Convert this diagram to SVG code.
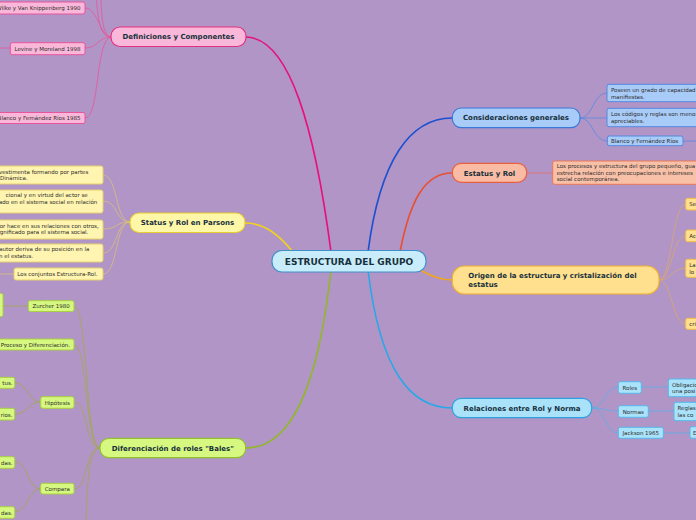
<svg xmlns="http://www.w3.org/2000/svg" width="696" height="520" viewBox="0 0 696 520">
<style>
.main{font-family:"DejaVu Sans",Verdana,sans-serif;font-weight:bold;fill:#17303c;}
.t{font-family:"DejaVu Sans",Verdana,sans-serif;font-size:5.5px;fill:#2c2c2c;}
.c{fill:none;stroke-linecap:round;}
.pk{fill:#f9b8d9;stroke:#e4307f;stroke-width:1.2;}
.pks{fill:#f9b8d9;stroke:#e8559c;stroke-width:1;}
.yl{fill:#fff7a8;stroke:#e8cc30;stroke-width:1.2;}
.yls{fill:#fff5b0;stroke:#e6d06a;stroke-width:1;}
.lm{fill:#d6f880;stroke:#92c030;stroke-width:1.2;}
.lms{fill:#d6f880;stroke:#a8d040;stroke-width:1;}
.bl{fill:#a9cbf7;stroke:#3a78d8;stroke-width:1.2;}
.bls{fill:#a9cbf7;stroke:#5588e0;stroke-width:1;}
.sa{fill:#f9bba3;stroke:#e86040;stroke-width:1.2;}
.sas{fill:#f9c0a8;stroke:#e87858;stroke-width:1;}
.or{fill:#fee08f;stroke:#f0b030;stroke-width:1.2;}
.ors{fill:#fee08f;stroke:#f0bc48;stroke-width:1;}
.cy{fill:#aae2fa;stroke:#30a0e0;stroke-width:1.2;}
.cys{fill:#aae2fa;stroke:#55b8ea;stroke-width:1;}
</style>
<rect x="0" y="0" width="696" height="520" fill="#b095c6"/>
<g id="connectors">
  <path class="c" d="M331,252 C315,130 290,38 246,37" stroke="#e8107a" stroke-width="1.6"/>
  <path class="c" d="M293,252 C280,236 265,223 245,223" stroke="#f0d020" stroke-width="1.6"/>
  <path class="c" d="M331,270 C318,390 290,448 246,448" stroke="#90b828" stroke-width="1.6"/>
  <path class="c" d="M368,252 C380,160 410,118 452,118" stroke="#1a50d0" stroke-width="1.6"/>
  <path class="c" d="M400,252 C410,200 425,173 452,173" stroke="#e85030" stroke-width="1.6"/>
  <path class="c" d="M420,270 C432,276 440,280 452,280" stroke="#f0a818" stroke-width="1.6"/>
  <path class="c" d="M368,270 C380,370 410,408 452,408" stroke="#28a8e8" stroke-width="1.6"/>
  <g stroke="#e8559c" stroke-width="0.8" fill="none">
    <path d="M111,37 C100,37 98,8 85,8"/>
    <path d="M111,37 C100,37 98,20 96,-5"/>
    <path d="M111,37 C103,37 101,15 101,-5"/>
    <path d="M111,37 C98,37 98,48 85,48"/>
    <path d="M111,37 C95,40 100,118 85,118"/>
    <path d="M10,48 L0,48"/>
  </g>
  <g stroke="#d8c078" stroke-width="0.8" fill="none">
    <path d="M130,222 C115,222 118,175 103,175"/>
    <path d="M130,222 C115,222 118,201 103,201"/>
    <path d="M130,222 C115,222 118,229 103,229"/>
    <path d="M130,222 C115,222 118,253 103,253"/>
    <path d="M130,222 C115,222 118,274 103,274"/>
    <path d="M14,274 L0,274"/>
  </g>
  <g stroke="#a3a84e" stroke-width="0.8" fill="none">
    <path d="M100,448 C85,448 88,306 74,306"/>
    <path d="M100,448 C85,448 88,345 74,345"/>
    <path d="M100,448 C85,448 88,402 74,402"/>
    <path d="M100,448 C85,448 88,489 74,489"/>
    <path d="M100,448 C88,448 87,490 86,525"/>
    <path d="M28,306 L3,306"/>
    <path d="M40.7,402 C28,402 28,383 14.7,383"/>
    <path d="M40.7,402 C28,402 28,414 14.7,414"/>
    <path d="M40.7,489 C28,489 28,462 14.7,462"/>
    <path d="M40.7,489 C28,489 28,512 14.7,512"/>
  </g>
  <g stroke="#5a88e0" stroke-width="0.8" fill="none">
    <path d="M580,118 C593,118 593,93 607,93"/>
    <path d="M580,118 L607,118"/>
    <path d="M580,118 C593,118 593,141 607,141"/>
    <path d="M683,141 L696,141"/>
  </g>
  <path d="M527,173 L553,173" stroke="#e87060" stroke-width="0.8" fill="none"/>
  <g stroke="#d8a870" stroke-width="0.8" fill="none">
    <path d="M659,280 C672,280 672,204 686,204"/>
    <path d="M659,280 C672,280 672,236 686,236"/>
    <path d="M659,280 C672,280 672,268 686,268"/>
    <path d="M659,280 C672,280 672,324 686,324"/>
  </g>
  <g stroke="#5ab0e8" stroke-width="0.8" fill="none">
    <path d="M592,408 C605,408 605,387 618,387"/>
    <path d="M592,408 C605,408 605,411 618,411"/>
    <path d="M592,408 C605,408 605,433 618,433"/>
    <path d="M641,387 L668,387"/>
    <path d="M648,411 L674,411"/>
    <path d="M663,433 L690,433"/>
  </g>
</g>
<g id="root">
  <rect x="272" y="250.5" width="154" height="21.5" rx="10" fill="#c8ecfa" stroke="#3f8fcb" stroke-width="1.2"/>
  <text class="main" x="349" y="264.5" font-size="9" text-anchor="middle">ESTRUCTURA DEL GRUPO</text>
</g>
<g id="definiciones">
  <rect class="pk" x="111" y="27" width="135" height="19.5" rx="9"/>
  <text class="main" x="178.5" y="39.3" font-size="7" text-anchor="middle">Definiciones y Componentes</text>
</g>
<g id="wilke"><rect class="pks" x="-20" y="2" width="105" height="12" rx="2"/><text class="t" x="80.5" y="10" text-anchor="end">Wilke y Van Knippenberg 1990</text></g>
<g id="levine"><rect class="pks" x="10.3" y="42.7" width="74.7" height="12" rx="2"/><text class="t" x="80.5" y="50.8" text-anchor="end">Levine y Moreland 1998</text></g>
<g id="blanco1985"><rect class="pks" x="-20" y="112.5" width="105" height="11" rx="2"/><text class="t" x="80.5" y="120.2" text-anchor="end">Blanco y Fernández Ríos 1985</text></g>

<g id="parsons">
  <rect class="yl" x="130" y="213" width="115" height="19.5" rx="9"/>
  <text class="main" x="187.5" y="225.3" font-size="7" text-anchor="middle">Status y Rol en Parsons</text>
</g>
<g id="p1"><rect class="yls" x="-40" y="166" width="143" height="18" rx="2"/><text class="t" x="88.3" y="173.5" text-anchor="end">vestimenta formando por partes</text><text class="t" x="27.7" y="180.3" text-anchor="end">Dinámica.</text></g>
<g id="p2"><rect class="yls" x="-40" y="190" width="143" height="23" rx="2"/><text class="t" x="87.7" y="196.8" text-anchor="end">cional y en virtud del actor se</text><text class="t" x="97.3" y="203.8" text-anchor="end">ado en el sistema social en relación</text></g>
<g id="p3"><rect class="yls" x="-40" y="220" width="143" height="19" rx="2"/><text class="t" x="98.7" y="227.7" text-anchor="end">or hace en sus relaciones con otros,</text><text class="t" x="88.3" y="234.4" text-anchor="end">gnificado para el sistema social.</text></g>
<g id="p4"><rect class="yls" x="-40" y="244" width="143" height="18" rx="2"/><text class="t" x="89.3" y="251.2" text-anchor="end">autor deriva de su posición en la</text><text class="t" x="33" y="258.2" text-anchor="end">n el estatus.</text></g>
<g id="p5"><rect class="yls" x="14" y="268" width="89" height="12" rx="2"/><text class="t" x="17.3" y="276.3">Los conjuntos Estructura-Rol.</text></g>

<g id="bales">
  <rect class="lm" x="100" y="438.3" width="145.7" height="19.4" rx="9"/>
  <text class="main" x="172.8" y="450.6" font-size="7" text-anchor="middle">Diferenciación de roles "Bales"</text>
</g>
<g id="zurcher-left"><rect class="lms" x="-20" y="293.3" width="23" height="23.4" rx="2"/></g>
<g id="zurcher"><rect class="lms" x="28.3" y="300.7" width="45.7" height="10.8" rx="2"/><text class="t" x="51.2" y="308.3" text-anchor="middle">Zurcher 1980</text></g>
<g id="proceso"><rect class="lms" x="-20" y="339" width="94" height="11" rx="2"/><text class="t" x="70" y="346.8" text-anchor="end">Proceso y Diferenciación.</text></g>
<g id="hipotesis"><rect class="lms" x="40.7" y="396.7" width="33.3" height="11.6" rx="2"/><text class="t" x="57.3" y="404.6" text-anchor="middle">Hipótesis</text></g>
<g id="h1"><rect class="lms" x="-20" y="377.3" width="34.7" height="11" rx="2"/><text class="t" x="12.5" y="385.2" text-anchor="end">tus.</text></g>
<g id="h2"><rect class="lms" x="-20" y="408.3" width="34.7" height="11.7" rx="2"/><text class="t" x="12.5" y="416.5" text-anchor="end">rios.</text></g>
<g id="compara"><rect class="lms" x="40.7" y="483.3" width="33.3" height="10.7" rx="2"/><text class="t" x="57.3" y="490.9" text-anchor="middle">Compara</text></g>
<g id="c1"><rect class="lms" x="-20" y="456.7" width="34.7" height="11.6" rx="2"/><text class="t" x="12.5" y="464.8" text-anchor="end">das.</text></g>
<g id="c2"><rect class="lms" x="-20" y="506.7" width="34.7" height="11.6" rx="2"/><text class="t" x="12.5" y="514.8" text-anchor="end">das.</text></g>

<g id="consideraciones">
  <rect class="bl" x="452.3" y="108" width="127.7" height="19.7" rx="9"/>
  <text class="main" x="516" y="120.4" font-size="7" text-anchor="middle">Consideraciones generales</text>
</g>
<g id="k1"><rect class="bls" x="607" y="84.3" width="110" height="17.4" rx="2"/><text class="t" x="611" y="91.9">Poseen un grado de capacidad</text><text class="t" x="611" y="98.8">manifiestas.</text></g>
<g id="k2"><rect class="bls" x="607" y="108.3" width="110" height="18.4" rx="2"/><text class="t" x="611" y="115.8">Los códigos y reglas son menos</text><text class="t" x="611" y="122.8">apreciables.</text></g>
<g id="k3"><rect class="bls" x="607.3" y="136" width="75.7" height="9.7" rx="2"/><text class="t" x="611" y="142.9">Blanco y Fernández Ríos</text></g>

<g id="estatus">
  <rect class="sa" x="452.3" y="163.3" width="74.4" height="19" rx="9"/>
  <text class="main" x="489.5" y="175.5" font-size="7" text-anchor="middle">Estatus y Rol</text>
</g>
<g id="e1"><rect class="sas" x="552.7" y="161" width="170" height="23.3" rx="2"/><text class="t" x="556.7" y="167.8">Los procesos y estructura del grupo pequeño, gua</text><text class="t" x="556.7" y="174.6">estrecha relación con preocupaciones e intereses</text><text class="t" x="556.7" y="181.4">social contemporánea.</text></g>

<g id="origen">
  <rect class="or" x="452.3" y="266" width="206.7" height="28" rx="12"/>
  <text class="main" x="468.3" y="278" font-size="7">Origen de la estructura y cristalización del</text>
  <text class="main" x="468.3" y="287" font-size="7">estatus</text>
</g>
<g id="o1"><rect class="ors" x="685.7" y="198.3" width="30" height="11.7" rx="2"/><text class="t" x="689.3" y="206.2">Se</text></g>
<g id="o2"><rect class="ors" x="685.7" y="230" width="30" height="11.7" rx="2"/><text class="t" x="689.3" y="237.9">Ac</text></g>
<g id="o3"><rect class="ors" x="685.7" y="259.3" width="30" height="18" rx="2"/><text class="t" x="689.3" y="266.8">La</text><text class="t" x="689.3" y="273.6">lo</text></g>
<g id="o4"><rect class="ors" x="685.7" y="318.3" width="30" height="11" rx="2"/><text class="t" x="689.3" y="326">cri</text></g>

<g id="relaciones">
  <rect class="cy" x="452.3" y="398.3" width="139.4" height="19.4" rx="9"/>
  <text class="main" x="522" y="410.6" font-size="7" text-anchor="middle">Relaciones entre Rol y Norma</text>
</g>
<g id="roles"><rect class="cys" x="618.3" y="381.7" width="23" height="11.6" rx="2"/><text class="t" x="629.8" y="389.6" text-anchor="middle">Roles</text></g>
<g id="normas"><rect class="cys" x="618.3" y="405.7" width="30" height="11.6" rx="2"/><text class="t" x="633.3" y="413.6" text-anchor="middle">Normas</text></g>
<g id="jackson"><rect class="cys" x="618.3" y="427.3" width="45" height="11" rx="2"/><text class="t" x="640.8" y="435" text-anchor="middle">Jackson 1965</text></g>
<g id="r1"><rect class="cys" x="668.3" y="379" width="40" height="17.7" rx="2"/><text class="t" x="672" y="386.6">Obligacio</text><text class="t" x="672" y="393.4">una posi</text></g>
<g id="r2"><rect class="cys" x="674" y="402.3" width="40" height="18.4" rx="2"/><text class="t" x="677.5" y="410">Reglas</text><text class="t" x="677.5" y="416.9">las co</text></g>
<g id="r3"><rect class="cys" x="690" y="426.7" width="20" height="11.6" rx="2"/><text class="t" x="693" y="434.8">E</text></g>
</svg>
